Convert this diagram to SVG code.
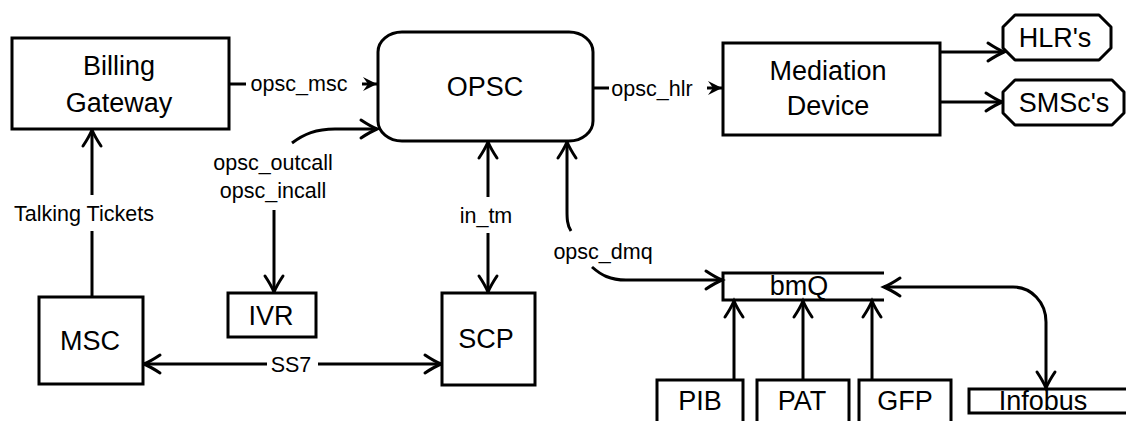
<svg xmlns="http://www.w3.org/2000/svg" width="1126" height="421" viewBox="0 0 1126 421">
  <style>
    .box { fill: #fff; stroke: #000; stroke-width: 3; }
    .open { fill: none; stroke: #000; stroke-width: 3; }
    .wire { fill: none; stroke: #000; stroke-width: 3; }
    .name { font-family: "Liberation Sans", Arial, sans-serif; font-size: 27px; fill: #000; text-anchor: middle; }
    .lbl { font-family: "Liberation Sans", Arial, sans-serif; font-size: 21.5px; fill: #000; text-anchor: middle; }
  </style>
  <defs>
    <marker id="chev" markerUnits="userSpaceOnUse" viewBox="-20 -12 22 24" refX="0" refY="0" markerWidth="22" markerHeight="24" orient="auto-start-reverse" overflow="visible">
      <path d="M-16,-9 Q-7,-3 0,0 Q-7,3 -16,9" fill="none" stroke="#000" stroke-width="3" stroke-linecap="round"/>
    </marker>
    <marker id="dart" markerUnits="userSpaceOnUse" viewBox="-16 -9 18 18" refX="0" refY="0" markerWidth="18" markerHeight="18" orient="auto" overflow="visible">
      <path d="M0,0 L-14,-7 L-9,0 L-14,7 Z" fill="#000"/>
    </marker>
  </defs>

  <!-- connectors -->
  <g id="connectors">
    <!-- Talking Tickets: MSC up to Billing Gateway -->
    <path class="wire" d="M92,297 V231"/>
    <path class="wire" d="M92,195 V130" marker-end="url(#chev)"/>
    <text class="lbl" x="84" y="221">Talking Tickets</text>

    <!-- opsc_msc -->
    <path class="wire" d="M229,84 H246"/>
    <path class="wire" d="M362,84 H377" marker-end="url(#dart)"/>
    <text class="lbl" x="299" y="91">opsc_msc</text>

    <!-- opsc_outcall / opsc_incall -->
    <path class="wire" d="M292,143 C304,134 316,129 335,129 H377" marker-end="url(#chev)"/>
    <path class="wire" d="M274,210 V292" marker-end="url(#chev)"/>
    <text class="lbl" x="273" y="170">opsc_outcall</text>
    <text class="lbl" x="273" y="198">opsc_incall</text>

    <!-- in_tm -->
    <path class="wire" d="M488,197 V142" marker-end="url(#chev)"/>
    <path class="wire" d="M488,233 V292" marker-end="url(#chev)"/>
    <text class="lbl" x="486" y="223">in_tm</text>

    <!-- opsc_dmq -->
    <path class="wire" d="M571,231 C567,225 567,218 567,210 V142" marker-end="url(#chev)"/>
    <path class="wire" d="M592,267 C601,275 610,280 626,280 H722" marker-end="url(#chev)"/>
    <text class="lbl" x="603" y="259">opsc_dmq</text>

    <!-- opsc_hlr -->
    <path class="wire" d="M593,88 H609"/>
    <path class="wire" d="M707,88 H722" marker-end="url(#dart)"/>
    <text class="lbl" x="652" y="96">opsc_hlr</text>

    <!-- Mediation Device to HLR's / SMSc's -->
    <path class="wire" d="M940,52 H1004" marker-end="url(#chev)"/>
    <path class="wire" d="M940,102 H1002" marker-end="url(#chev)"/>

    <!-- SS7 -->
    <path class="wire" d="M267,364 H144" marker-end="url(#chev)"/>
    <path class="wire" d="M318,364 H441" marker-end="url(#chev)"/>
    <text class="lbl" x="291" y="372">SS7</text>

    <!-- feeds into bmQ -->
    <path class="wire" d="M734,380 V301" marker-end="url(#chev)"/>
    <path class="wire" d="M803,380 V301" marker-end="url(#chev)"/>
    <path class="wire" d="M872,380 V301" marker-end="url(#chev)"/>

    <!-- bmQ <-> Infobus -->
    <path class="wire" d="M884,287 H1013 C1031,287 1046,302 1046,322 V388" marker-start="url(#chev)" marker-end="url(#chev)"/>
  </g>

  <g id="billing-gateway">
    <rect class="box" x="12" y="38" width="217" height="91"/>
    <text class="name" x="119" y="75">Billing</text>
    <text class="name" x="119" y="112">Gateway</text>
  </g>

  <g id="opsc">
    <rect class="box" x="378" y="32" width="215" height="109" rx="24" ry="20"/>
    <text class="name" x="485" y="96">OPSC</text>
  </g>

  <g id="mediation-device">
    <rect class="box" x="723" y="43" width="217" height="92"/>
    <text class="name" x="828" y="80">Mediation</text>
    <text class="name" x="828" y="115">Device</text>
  </g>

  <g id="hlrs">
    <path class="box" d="M1015,15 H1099 L1111,27 V48 L1099,60 H1015 L1003,48 V27 Z" stroke-linejoin="round"/>
    <text class="name" x="1055" y="47">HLR's</text>
  </g>

  <g id="smscs">
    <path class="box" d="M1015,80 H1112 L1124,92 V113 L1112,125 H1015 L1003,113 V92 Z" stroke-linejoin="round"/>
    <text class="name" x="1064" y="112">SMSc's</text>
  </g>

  <g id="msc">
    <rect class="box" x="39" y="297" width="104" height="87"/>
    <text class="name" x="90" y="350">MSC</text>
  </g>

  <g id="ivr">
    <rect class="box" x="228" y="293" width="88" height="44"/>
    <text class="name" x="271" y="325">IVR</text>
  </g>

  <g id="scp">
    <rect class="box" x="442" y="293" width="93" height="92"/>
    <text class="name" x="486" y="348">SCP</text>
  </g>

  <g id="bmq">
    <path class="open" d="M884,273 H723 V300 H884"/>
    <text class="name" x="799" y="295">bmQ</text>
  </g>

  <g id="pib">
    <rect class="box" x="657" y="380" width="86" height="60"/>
    <text class="name" x="700" y="410">PIB</text>
  </g>

  <g id="pat">
    <rect class="box" x="757" y="380" width="92" height="60"/>
    <text class="name" x="802" y="410">PAT</text>
  </g>

  <g id="gfp">
    <rect class="box" x="859" y="380" width="92" height="60"/>
    <text class="name" x="905" y="410">GFP</text>
  </g>

  <g id="infobus">
    <path class="open" d="M1130,389 H969 V413 H1130"/>
    <text class="name" x="1043" y="410">Infobus</text>
  </g>
</svg>
